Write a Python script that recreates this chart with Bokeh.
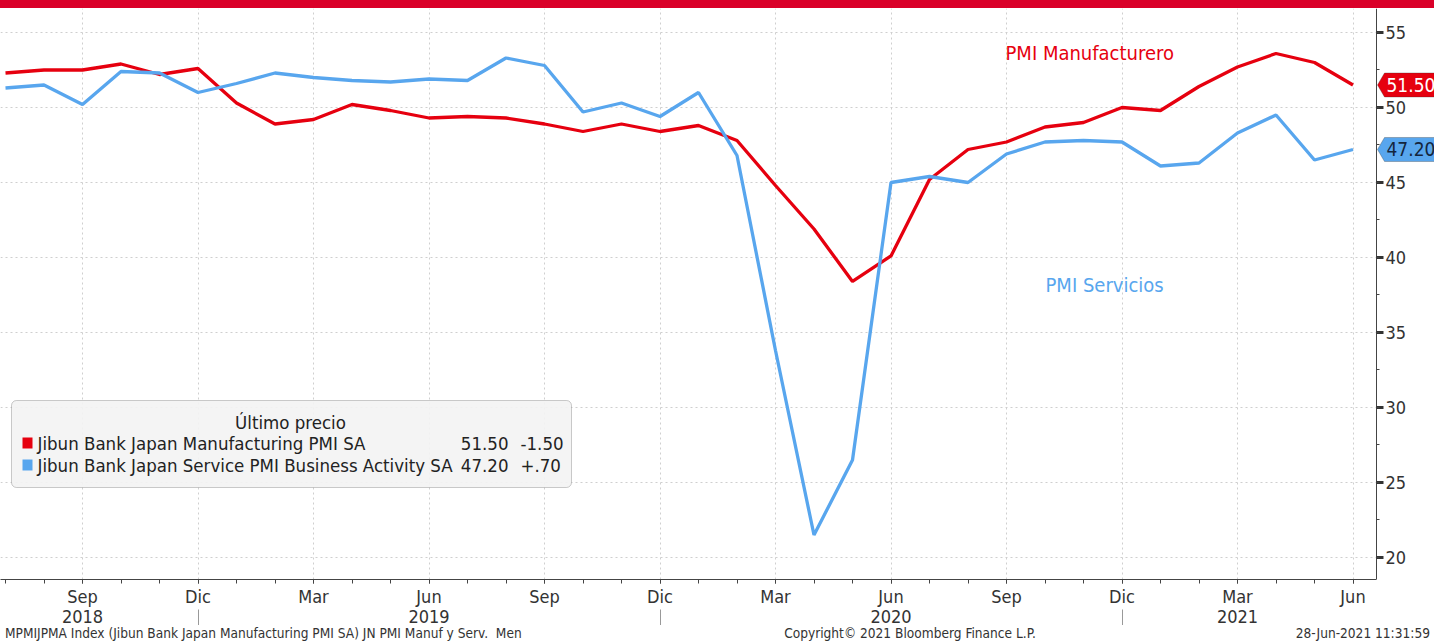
from bokeh.plotting import figure
from bokeh.models import (Range1d, FixedTicker, LinearAxis, Label, BoxAnnotation,
                          PolyAnnotation, Div, ColumnDataSource)
from bokeh.layouts import column
from bokeh.embed import file_html
from bokeh.resources import INLINE

# ---------------- data ----------------
months = ["2018-07", "2018-08", "2018-09", "2018-10", "2018-11", "2018-12",
          "2019-01", "2019-02", "2019-03", "2019-04", "2019-05", "2019-06",
          "2019-07", "2019-08", "2019-09", "2019-10", "2019-11", "2019-12",
          "2020-01", "2020-02", "2020-03", "2020-04", "2020-05", "2020-06",
          "2020-07", "2020-08", "2020-09", "2020-10", "2020-11", "2020-12",
          "2021-01", "2021-02", "2021-03", "2021-04", "2021-05", "2021-06"]
manufacturing = [52.3, 52.5, 52.5, 52.9, 52.2, 52.6, 50.3, 48.9, 49.2, 50.2, 49.8, 49.3,
                 49.4, 49.3, 48.9, 48.4, 48.9, 48.4, 48.8, 47.8, 44.8, 41.9, 38.4, 40.1,
                 45.2, 47.2, 47.7, 48.7, 49.0, 50.0, 49.8, 51.4, 52.7, 53.6, 53.0, 51.5]
services = [51.3, 51.5, 50.2, 52.4, 52.3, 51.0, 51.6, 52.3, 52.0, 51.8, 51.7, 51.9,
            51.8, 53.3, 52.8, 49.7, 50.3, 49.4, 51.0, 46.8, 33.8, 21.5, 26.5, 45.0,
            45.4, 45.0, 46.9, 47.7, 47.8, 47.7, 46.1, 46.3, 48.3, 49.5, 46.5, 47.2]
month_names = {"03": "Mar", "06": "Jun", "09": "Sep", "12": "Dic"}
year_label_months = {"2018": "2018-09", "2019": "2019-06", "2020": "2020-06", "2021": "2021-03"}
y_ticks = [20, 25, 30, 35, 40, 45, 50, 55]
y_minor = [17.5, 20, 22.5, 25, 27.5, 30, 32.5, 35, 37.5, 40, 42.5, 45, 47.5, 50, 52.5, 55, 57.5]
series_names = ["Jibun Bank Japan Manufacturing PMI SA",
                "Jibun Bank Japan Service PMI Business Activity SA"]
last_changes = ["-1.50", "+.70"]
footer_left = "MPMIJPMA Index (Jibun Bank Japan Manufacturing PMI SA) JN PMI Manuf y Serv.&nbsp; Men"
footer_mid = "Copyright\u00a9 2021 Bloomberg Finance L.P."
footer_right = "28-Jun-2021 11:31:59"

RED = "#E6000F"
BLUE = "#58A6EE"
FONT = "DejaVu Sans Condensed, Liberation Sans Narrow, sans-serif"
TXT = "#333333"

# layout geometry (pixels)
W = 1434
FRAME_H = 571
PX_MONTH = 38.5
X0 = -5 / PX_MONTH                      # first month sits 5px in from the left edge
X1 = X0 + W / PX_MONTH
AXIS_X = X0 + 1376 / PX_MONTH           # right value axis position
Y0, Y1 = 18.533, 56.6

x = list(range(len(months)))
src = ColumnDataSource(dict(x=x, m=manufacturing, s=services))

p = figure(frame_width=W, frame_height=FRAME_H,
           x_range=Range1d(X0, X1), y_range=Range1d(Y0, Y1),
           output_backend="svg", toolbar_location=None, y_axis_location="right",
           min_border=0, outline_line_color=None, background_fill_color="white",
           border_fill_color="white")

# ---- x axis (months) ----
major_idx = [i for i, m in enumerate(months) if m[5:] in month_names]
xa = p.xaxis[0]
xa.ticker = FixedTicker(ticks=major_idx, minor_ticks=x)
xa.bounds = (X0, AXIS_X)
xa.major_label_overrides = {i: month_names[months[i][5:]] for i in major_idx}
xa.major_label_text_font = FONT
xa.major_label_text_font_size = "18px"
xa.major_label_text_color = TXT
xa.axis_line_color = "#444444"
xa.major_tick_line_color = "#444444"
xa.minor_tick_line_color = "#444444"
xa.major_tick_out = 4
xa.major_tick_in = 0
xa.minor_tick_out = 4
xa.minor_tick_in = 0
xa.major_label_standoff = 2

# ---- year axis ----
year_pos = [months.index(v) for v in year_label_months.values()]
sep_pos = [i for i, m in enumerate(months) if m[5:] == "12"]
ya2 = LinearAxis(ticker=FixedTicker(ticks=year_pos, minor_ticks=sep_pos),
                 major_label_overrides={months.index(v): k for k, v in year_label_months.items()},
                 axis_line_color=None, major_tick_line_color=None,
                 minor_tick_out=20, minor_tick_in=0, minor_tick_line_color="#999999",
                 major_label_text_font=FONT, major_label_text_font_size="18px",
                 major_label_text_color=TXT, major_label_standoff=-20)
p.add_layout(ya2, "below")

# ---- y axis (right, fixed at the frame position) ----
yax = p.yaxis[0]
yax.fixed_location = AXIS_X
yax.ticker = FixedTicker(ticks=y_ticks, minor_ticks=y_minor)
yax.major_label_text_font = FONT
yax.major_label_text_font_size = "18px"
yax.major_label_text_color = TXT
yax.axis_line_color = "#444444"
yax.major_tick_line_color = "#333333"
yax.major_tick_line_width = 3
yax.major_tick_out = 7
yax.major_tick_in = 0
yax.minor_tick_line_color = "#444444"
yax.minor_tick_out = 3
yax.minor_tick_in = 0
yax.major_label_standoff = 2

# ---- grids ----
p.xgrid[0].ticker = xa.ticker
p.ygrid[0].ticker = yax.ticker
for g in (p.xgrid[0], p.ygrid[0]):
    g.grid_line_color = "#cfcfcf"
    g.grid_line_dash = "2 3"
    g.grid_line_width = 1

# white area right of the value axis (hides grid there)
p.add_layout(BoxAnnotation(left=AXIS_X, fill_color="white", fill_alpha=1.0,
                           line_color=None, level="underlay"))

# ---- lines ----
p.line("x", "m", source=src, color=RED, line_width=3.3)
p.line("x", "s", source=src, color=BLUE, line_width=3.3)

# ---- annotations ----
p.add_layout(Label(x=1005, y=FRAME_H + 8 - 52, x_units="screen", y_units="screen",
                   text="PMI Manufacturero", text_color=RED, text_font=FONT,
                   text_font_size="20px", text_baseline="middle"))
p.add_layout(Label(x=1045, y=FRAME_H + 8 - 284, x_units="screen", y_units="screen",
                   text="PMI Servicios", text_color=BLUE, text_font=FONT,
                   text_font_size="20px", text_baseline="middle"))

# ---- last value tags ----
h = 12 / 15.0
for v, fill, tc in [(manufacturing[-1], RED, "white"), (services[-1], BLUE, "#14253d")]:
    p.add_layout(PolyAnnotation(xs=[1377, 1384, 1440, 1440, 1384],
                                ys=[v, v + h, v + h, v - h, v - h],
                                xs_units="screen", ys_units="data",
                                fill_color=fill, fill_alpha=1.0,
                                line_color="#333333", line_width=1))
    p.add_layout(Label(x=1386, y=v, x_units="screen", y_units="data",
                       text=f"{v:.2f}", text_color=tc, text_font=FONT,
                       text_font_size="19px", text_baseline="middle"))

# ---- legend box ----
def sy(ref_y):
    return FRAME_H + 8 - ref_y

p.add_layout(BoxAnnotation(left=11, right=571, bottom=sy(487), top=sy(400),
                           left_units="screen", right_units="screen",
                           bottom_units="screen", top_units="screen",
                           fill_color="#f3f3f3", fill_alpha=0.92,
                           line_color="#555555", line_width=1, border_radius=5))
p.add_layout(Label(x=290, y=sy(422), x_units="screen", y_units="screen",
                   text="Último precio", text_font=FONT, text_font_size="18.5px",
                   text_color="#222222", text_align="center", text_baseline="middle"))
rows = [(series_names[0], manufacturing[-1], last_changes[0], RED, sy(443)),
        (series_names[1], services[-1], last_changes[1], BLUE, sy(465))]
for name, val, chg, col, yy in rows:
    p.add_layout(BoxAnnotation(left=22, right=32, bottom=yy - 5, top=yy + 6,
                               left_units="screen", right_units="screen",
                               bottom_units="screen", top_units="screen",
                               fill_color=col, fill_alpha=1.0, line_color=None))
    p.add_layout(Label(x=37, y=yy, x_units="screen", y_units="screen", text=name,
                       text_font=FONT, text_font_size="18.5px", text_color="#222222",
                       text_baseline="middle"))
    p.add_layout(Label(x=508, y=yy, x_units="screen", y_units="screen", text=f"{val:.2f}",
                       text_font=FONT, text_font_size="18.5px", text_color="#222222",
                       text_baseline="middle", text_align="right"))
    p.add_layout(Label(x=520, y=yy, x_units="screen", y_units="screen", text=chg,
                       text_font=FONT, text_font_size="18.5px", text_color="#222222",
                       text_baseline="middle"))

# ---- red top bar and footer ----
bar = Div(text="", width=W, height=8, margin=0,
          styles={"background-color": "#DA0029"})
footer_html = (
    '<div style="position:relative;width:%dpx;height:15px;font-family:\'DejaVu Sans Condensed\',sans-serif;'
    'font-size:13.6px;line-height:15px;color:#333;white-space:nowrap">'
    '<span style="position:absolute;left:5px;top:1px">%s</span>'
    '<span style="position:absolute;left:910px;top:1px;transform:translateX(-50%%)">%s</span>'
    '<span style="position:absolute;right:4px;top:1px">%s</span></div>'
) % (W, footer_left, footer_mid, footer_right)
footer = Div(text=footer_html, width=W, height=15, margin=0)

layout = column(bar, p, footer, spacing=0)

open("out.html", "w").write(file_html(layout, INLINE))
